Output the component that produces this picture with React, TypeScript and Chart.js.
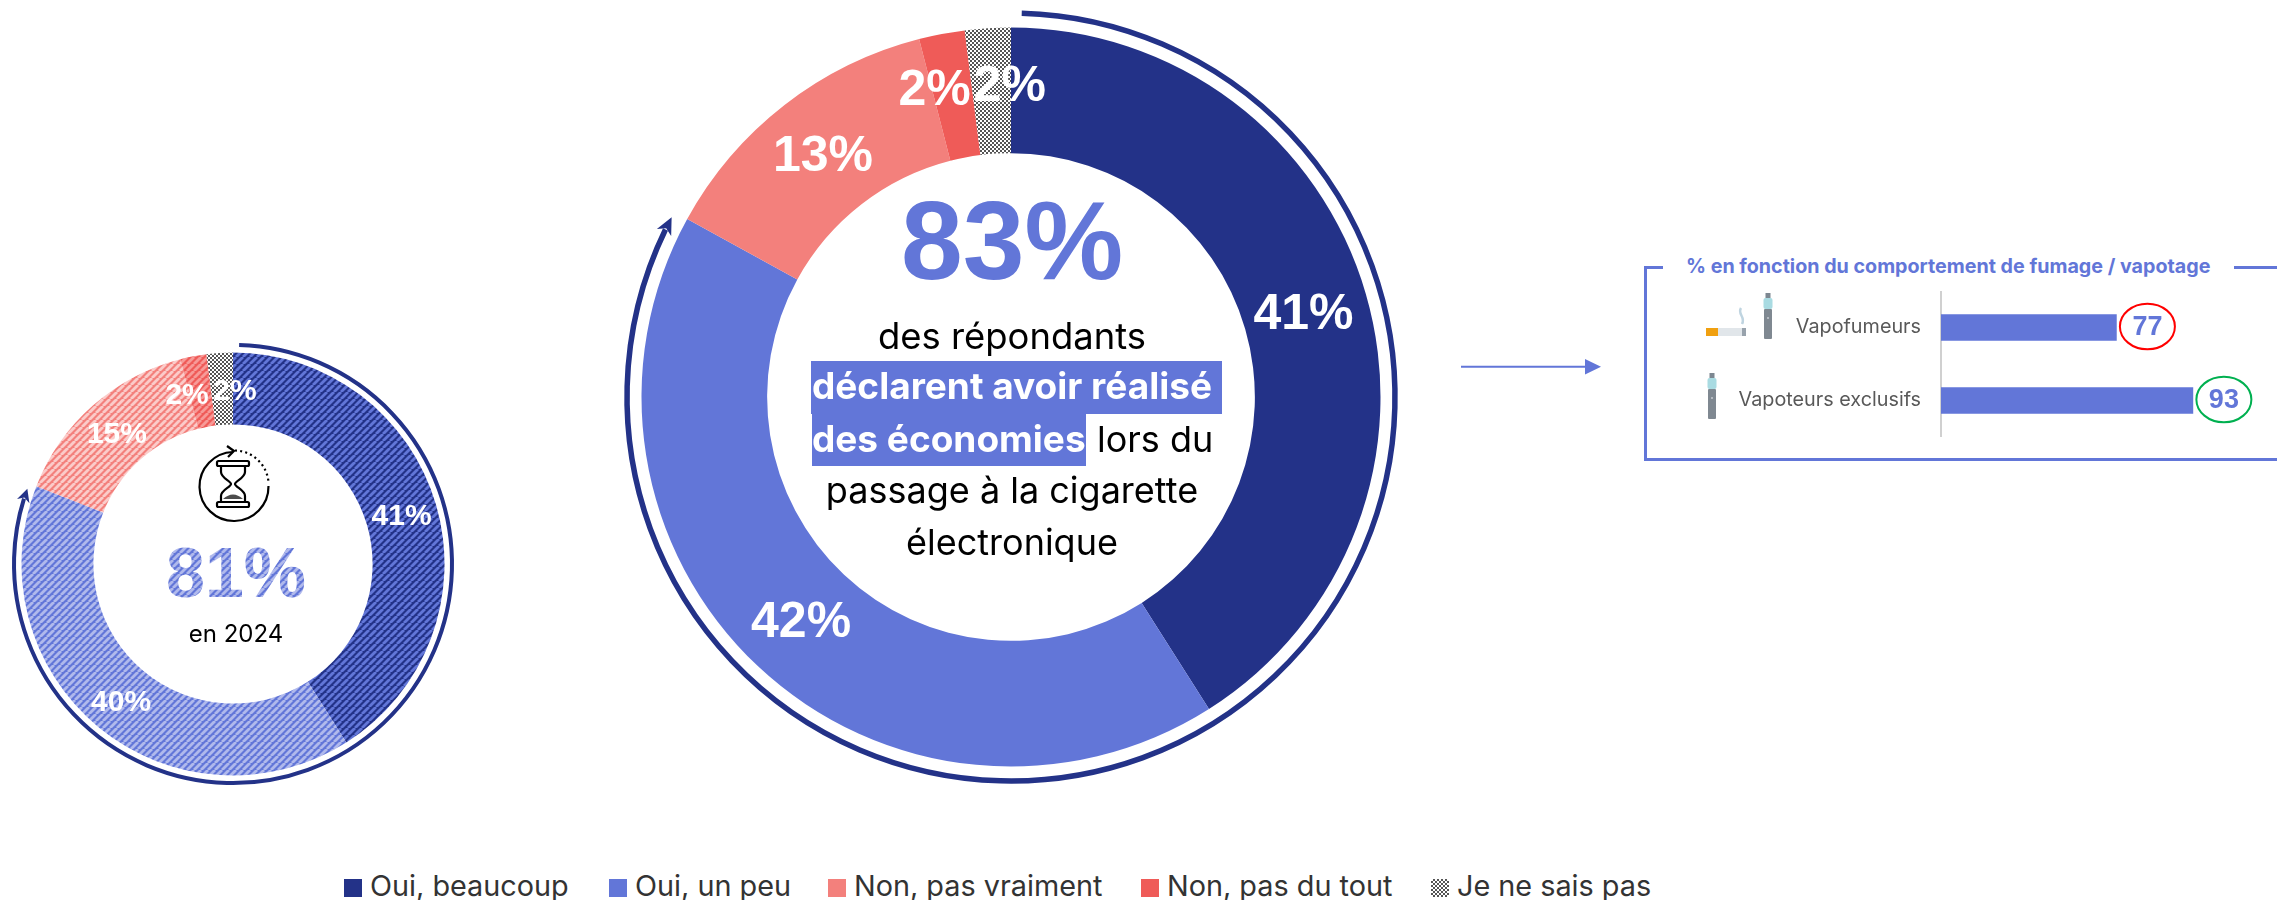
import React, { useEffect, useRef } from "react";
import { Chart, registerables } from "chart.js";

Chart.register(...registerables);

const categories = ["Oui, beaucoup", "Oui, un peu", "Non, pas vraiment", "Non, pas du tout", "Je ne sais pas"];
const values2025 = [41, 42, 13, 2, 2];
const values2024 = [41, 40, 15, 2, 2];
const total2025 = 83;
const total2024 = 81;
const barCategories = ["Vapofumeurs", "Vapoteurs exclusifs"];
const barValues = [77, 93];

const NAVY = "#233288";
const BLUE = "#6276D8";
const SALMON = "#F3807C";
const RED = "#EF5B58";
const UI = "Inter, 'Liberation Sans', sans-serif";
const ARIAL = "'Liberation Sans', Arial, sans-serif";

function stripe(base: string, line: string, p = 7, w = 2.8): CanvasPattern {
  const c = document.createElement("canvas");
  c.width = p; c.height = p;
  const x = c.getContext("2d")!;
  x.fillStyle = base; x.fillRect(0, 0, p, p);
  x.strokeStyle = line; x.lineWidth = w;
  for (const o of [-p, 0, p]) {
    x.beginPath(); x.moveTo(o, p); x.lineTo(o + p, 0); x.stroke();
  }
  return x.createPattern(c, "repeat")!;
}
function checker(): CanvasPattern {
  const c = document.createElement("canvas");
  c.width = 4; c.height = 4;
  const x = c.getContext("2d")!;
  x.fillStyle = "#ffffff"; x.fillRect(0, 0, 4, 4);
  x.fillStyle = "#555555"; x.fillRect(0, 0, 2, 2); x.fillRect(2, 2, 2, 2);
  return x.createPattern(c, "repeat")!;
}

function donutPlugin(cfg: any) {
  return {
    id: "donutDecor",
    afterDatasetsDraw(chart: any) {
      const ctx = chart.ctx;
      const arcs = chart.getDatasetMeta(0).data;
      const { x: cx, y: cy, outerRadius } = arcs[0];
      const R = outerRadius + cfg.gap;
      const startA = -Math.PI / 2 + (cfg.startDeg * Math.PI) / 180;
      const tipA = -Math.PI / 2 + (cfg.total / 100) * 2 * Math.PI - cfg.tipBackDeg * Math.PI / 180;
      const endA = tipA - cfg.headLen / R * 0.8;
      ctx.save();
      ctx.strokeStyle = NAVY; ctx.lineWidth = cfg.stroke;
      ctx.beginPath(); ctx.arc(cx, cy, R, startA, endA); ctx.stroke();
      const tx = cx + R * Math.cos(tipA), ty = cy + R * Math.sin(tipA);
      const dir = tipA + Math.PI / 2 - (cfg.headLen / R) / 2;
      const ux = Math.cos(dir), uy = Math.sin(dir), nx = -uy, ny = ux;
      ctx.fillStyle = NAVY;
      ctx.beginPath();
      ctx.moveTo(tx, ty);
      ctx.lineTo(tx - ux * cfg.headLen + nx * cfg.headW, ty - uy * cfg.headLen + ny * cfg.headW);
      ctx.lineTo(tx - ux * cfg.headLen * 0.72, ty - uy * cfg.headLen * 0.72);
      ctx.lineTo(tx - ux * cfg.headLen - nx * cfg.headW, ty - uy * cfg.headLen - ny * cfg.headW);
      ctx.closePath(); ctx.fill();
      ctx.fillStyle = "#ffffff";
      ctx.font = `bold ${cfg.fontSize}px ${ARIAL}`;
      ctx.textAlign = "center"; ctx.textBaseline = "middle";
      arcs.forEach((a: any, i: number) => {
        const p = a.tooltipPosition();
        const o = cfg.offsets[i];
        ctx.fillText(`${chart.data.datasets[0].data[i]}%`, p.x + o[0], p.y + o[1]);
      });
      if (cfg.center) {
        ctx.fillStyle = cfg.center.fill;
        ctx.font = `bold ${cfg.center.size}px ${ARIAL}`;
        ctx.textBaseline = "alphabetic";
        ctx.fillText(cfg.center.text, cx + cfg.center.dx, cy + cfg.center.dy);
      }
      ctx.restore();
    },
  };
}

function makeDonut(canvas: HTMLCanvasElement, data: number[], colors: any[], size: number, R: number, cfg: any) {
  return new Chart(canvas, {
    type: "doughnut",
    data: { labels: categories, datasets: [{ data, backgroundColor: colors, borderWidth: 0, hoverBorderWidth: 0 }] },
    options: {
      responsive: false, animation: false, cutout: "66%",
      layout: { padding: (size - 2 * R) / 2 },
      plugins: { legend: { display: false }, tooltip: { enabled: false } },
    },
    plugins: [donutPlugin(cfg)],
  } as any);
}

function T({ x, base, size, weight = 400, color = "#000", align = "left", font = UI, children, spacing = 0 }: any) {
  const tx = align === "center" ? "translateX(-50%)" : align === "right" ? "translateX(-100%)" : "none";
  const k = font === ARIAL ? 0.9465 : 0.964;
  return (
    <div style={{ position: "absolute", left: x, top: base - size * k, fontFamily: font, fontSize: size, fontWeight: weight, color, lineHeight: 1.2, whiteSpace: "pre", transform: tx, letterSpacing: spacing }}>
      {children}
    </div>
  );
}

const Box = ({ l, t, w, h, c }: any) => <div style={{ position: "absolute", left: l, top: t, width: w, height: h, background: c }} />;

function Vape({ x, y }: any) {
  return (
    <svg style={{ position: "absolute", left: x, top: y }} width="10" height="46" viewBox="0 0 10 46">
      <rect x="2.5" y="0" width="5" height="5" fill="#7d8791" />
      <rect x="0.5" y="5" width="9" height="11" rx="2" fill="#a9dbe2" />
      <rect x="1" y="16" width="8" height="30" rx="1" fill="#7f8891" />
      <circle cx="5" cy="25" r="1" fill="#c4cad0" />
    </svg>
  );
}

export default function App() {
  const big = useRef<HTMLCanvasElement>(null);
  const small = useRef<HTMLCanvasElement>(null);
  const bars = useRef<HTMLCanvasElement>(null);

  useEffect(() => {
    const bigChart = makeDonut(big.current!, values2025, [NAVY, BLUE, SALMON, RED, checker()], 790, 369.5, {
      total: total2025, gap: 14.5, stroke: 5.5, startDeg: 1.6, tipBackDeg: 0.9, headLen: 17, headW: 8, fontSize: 50,
      offsets: [[-2, 4], [0, 3], [0, 3], [-19, -5], [18, -4]],
    });
    const smallChart = makeDonut(small.current!, values2024, [
      stripe(NAVY, "#6276D8"), stripe(BLUE, "#B0B9EC"), stripe(SALMON, "#FBCBC9"), stripe(RED, "#F79A97"), checker(),
    ], 470, 211.5, {
      total: total2024, gap: 7.5, stroke: 4, startDeg: 1.6, tipBackDeg: 1.5, headLen: 13, headW: 6.5, fontSize: 30,
      offsets: [[0, 2], [0, 3], [0, 2], [-13, 4], [13, 3]],
      center: { text: `${total2024}%`, size: 70, fill: stripe(BLUE, "#B0B9EC"), dx: 3, dy: 33 },
    });
    const ringColors = ["#FF0000", "#00B050"];
    const barChart = new Chart(bars.current!, {
      type: "bar",
      data: { labels: barCategories, datasets: [{ data: barValues, backgroundColor: BLUE, barThickness: 26, borderWidth: 0 }] },
      options: {
        indexAxis: "y", responsive: false, animation: false,
        layout: { padding: 0 },
        scales: {
          x: { display: false, min: 40.3, max: 110.6 },
          y: {
            afterFit: (s: any) => { s.width = 211; s.paddingTop = 0; s.paddingBottom = 0; },
            grid: { display: false, drawTicks: false },
            border: { display: true, color: "#D0D0D0", width: 2 },
            ticks: { color: "#595959", padding: 20, font: { family: UI, size: 19.8 } },
          },
        },
        plugins: { legend: { display: false }, tooltip: { enabled: false } },
      },
      plugins: [{
        id: "rings",
        afterDatasetsDraw(chart: any) {
          const ctx = chart.ctx;
          chart.getDatasetMeta(0).data.forEach((b: any, i: number) => {
            const cx = b.x + 31, cy = b.y - 1;
            ctx.save();
            ctx.strokeStyle = ringColors[i]; ctx.lineWidth = 2;
            ctx.beginPath(); ctx.ellipse(cx, cy, 27.5, 22.8, 0, 0, 2 * Math.PI); ctx.stroke();
            ctx.fillStyle = BLUE; ctx.font = `bold 27px ${ARIAL}`;
            ctx.textAlign = "center"; ctx.textBaseline = "middle";
            ctx.fillText(String(barValues[i]), cx, cy + 1);
            ctx.restore();
          });
        },
      }],
    } as any);
    return () => { bigChart.destroy(); smallChart.destroy(); barChart.destroy(); };
  }, []);

  const legendColors = [NAVY, BLUE, SALMON, RED];
  const legendSwatchX = [344, 609, 828, 1141, 1431];

  return (
    <div style={{ position: "absolute", left: 0, top: 0, width: 2277, height: 900, overflow: "hidden", background: "#fff" }}>
      <canvas ref={small} width={470} height={470} style={{ position: "absolute", left: -2, top: 329, width: 470, height: 470 }} />
      <canvas ref={big} width={790} height={790} style={{ position: "absolute", left: 616, top: 2, width: 790, height: 790 }} />
      <canvas ref={bars} width={547} height={146} style={{ position: "absolute", left: 1730, top: 291, width: 547, height: 146 }} />

      <svg style={{ position: "absolute", left: 190, top: 440 }} width="90" height="90" viewBox="0 0 90 90" fill="none" stroke="#000" strokeWidth="2.2">
        <path d="M 43 12 A 34.5 34.5 0 1 0 78.5 46" />
        <path d="M 45 10.5 A 34.5 34.5 0 0 1 78.5 42" strokeDasharray="2 3.2" />
        <path d="M 37 6 L 44 11 L 38 17" />
        <rect x="27" y="21" width="32" height="5" rx="1.5" />
        <rect x="27" y="62" width="32" height="5" rx="1.5" />
        <path d="M 31 26 V 32 C 31 38 41 41 41 44 C 41 47 31 50 31 56 V 62 M 55 26 V 32 C 55 38 45 41 45 44 C 45 47 55 50 55 56 V 62" />
        <path d="M 33 59 Q 43 50 53 59 Z" fill="#000" stroke="none" opacity="0.7" />
      </svg>
      <T x={236} base={642.7} size={24} align="center">en 2024</T>

      <T x={1012} base={280} size={111} weight={700} color={BLUE} align="center" font={ARIAL}>{total2025}%</T>
      <T x={1012} base={350} size={36.4} align="center">des répondants</T>
      <Box l={811} t={361} w={411} h={53} c={BLUE} />
      <Box l={812} t={414} w={274} h={52} c={BLUE} />
      <T x={812} base={400} size={37} weight={700} color="#fff">déclarent avoir réalisé</T>
      <T x={812} base={453} size={37} weight={700} color="#fff">des économies</T>
      <T x={1097} base={453} size={36}>lors du</T>
      <T x={1012} base={504} size={36} align="center">passage à la cigarette</T>
      <T x={1012} base={556} size={36} align="center">électronique</T>

      <svg style={{ position: "absolute", left: 1455, top: 350 }} width="150" height="34">
        <line x1="6" y1="16.7" x2="132" y2="16.7" stroke={BLUE} strokeWidth="2" />
        <polygon points="130,9 146,16.7 130,24.4" fill={BLUE} />
      </svg>

      <Box l={1644} t={265.5} w={3} h={195} c={BLUE} />
      <Box l={1644} t={265.5} w={19} h={3} c={BLUE} />
      <Box l={2234} t={265.5} w={43} h={3} c={BLUE} />
      <Box l={1644} t={458} w={633} h={3} c={BLUE} />
      <T x={1686} base={273.5} size={19.7} weight={700} color={BLUE}>% en fonction du comportement de fumage / vapotage</T>

      <Vape x={1762.5} y={292.5} />
      <Vape x={1706.5} y={372.5} />
      <svg style={{ position: "absolute", left: 1704, top: 306 }} width="44" height="32">
        <rect x="2" y="22" width="12" height="8" fill="#F0A010" />
        <rect x="14" y="22" width="28" height="8" fill="#E1E6EA" />
        <rect x="38" y="22" width="4" height="8" fill="#98A2AC" />
        <path d="M 37 2 C 33 8 42 11 38 18" stroke="#BFD4E0" strokeWidth="2.5" fill="none" />
      </svg>

      {categories.map((c, i) => (
        <React.Fragment key={c}>
          <div style={{
            position: "absolute", left: legendSwatchX[i], top: 879, width: 18, height: 18,
            ...(i < 4 ? { background: legendColors[i] } : { background: "repeating-conic-gradient(#555 0 25%, #fff 0 50%) 0 0 / 4px 4px" }),
          }} />
          <T x={legendSwatchX[i] + 26} base={897} size={28.8} color="#333333">{c}</T>
        </React.Fragment>
      ))}
    </div>
  );
}
